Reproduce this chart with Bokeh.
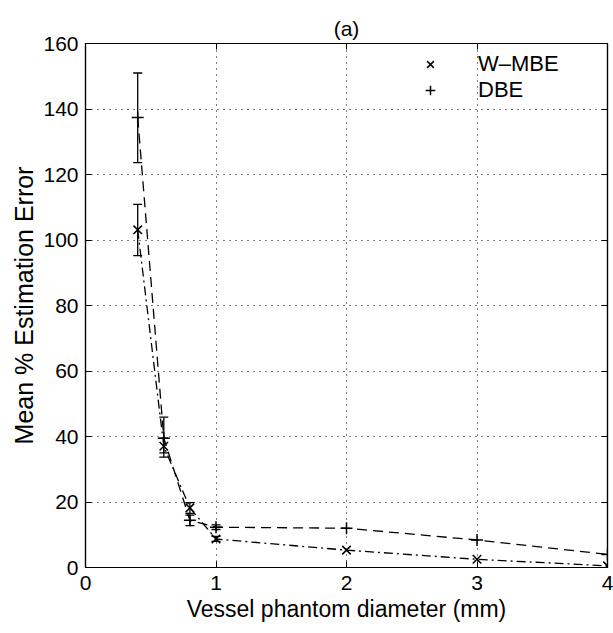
from bokeh.plotting import figure
from bokeh.models import (ColumnDataSource, Whisker, TeeHead, Legend, LegendItem,
                          LinearAxis, FixedTicker, Range1d, Title)
from bokeh.embed import file_html
from bokeh.resources import INLINE

# ---- data ----
diam = [0.4, 0.6, 0.8, 1, 2, 3, 4]
wmbe = [103.1, 37.0, 18.2, 8.7, 5.3, 2.5, 0.5]
dbe = [137.4, 39.5, 14.4, 12.3, 12.0, 8.4, 4.0]

err_x = [0.4, 0.6, 0.8, 1.0]
wmbe_lo = [95.2, 35.0, 16.5, 8.0]
wmbe_hi = [110.9, 39.5, 19.8, 9.5]
dbe_lo = [123.6, 33.7, 12.8, 11.6]
dbe_hi = [151.0, 45.9, 16.0, 13.0]

x_ticks = [0, 1, 2, 3, 4]
y_ticks = [0, 20, 40, 60, 80, 100, 120, 140, 160]

FONT = "Liberation Sans"

p = figure(width=613, height=633, output_backend="svg", toolbar_location=None,
           x_range=Range1d(0, 4), y_range=Range1d(0, 160),
           min_border_left=85, min_border_right=6, min_border_top=43, min_border_bottom=66)
p.background_fill_color = "white"
p.border_fill_color = "white"
p.outline_line_color = "black"
p.outline_line_width = 1.2

# grid
for g in (p.xgrid, p.ygrid):
    g.grid_line_color = "black"
    g.grid_line_dash = "1 5"
    g.grid_line_width = 1
p.xgrid.ticker = FixedTicker(ticks=x_ticks)
p.ygrid.ticker = FixedTicker(ticks=y_ticks)

def style_axis(ax, ticks, labels=True):
    ax.ticker = FixedTicker(ticks=ticks)
    ax.major_tick_in = 6
    ax.major_tick_out = 0
    ax.minor_tick_in = 0
    ax.minor_tick_out = 0
    ax.axis_line_color = "black"
    ax.axis_line_width = 1.2
    ax.major_tick_line_color = "black"
    ax.major_label_text_font = FONT
    ax.major_label_text_font_size = "21px"
    ax.major_label_text_color = "black" if labels else None
    ax.axis_label_text_font = FONT
    ax.axis_label_text_font_style = "normal"
    ax.axis_label_text_font_size = "23px"
    ax.axis_label_text_color = "black"

style_axis(p.xaxis[0], x_ticks)
style_axis(p.yaxis[0], y_ticks)
p.xaxis[0].axis_label = "Vessel phantom diameter (mm)"
p.yaxis[0].axis_label = "Mean % Estimation Error"
p.yaxis[0].axis_label_text_font_size = "25px"
p.xaxis[0].major_label_standoff = 8
p.xaxis[0].axis_label_standoff = 3
p.yaxis[0].major_label_standoff = 7
p.yaxis[0].axis_label_standoff = 2

top_ax = LinearAxis()
style_axis(top_ax, x_ticks, labels=False)
top_ax.major_label_text_font_size = "0px"
p.add_layout(top_ax, "above")
right_ax = LinearAxis()
style_axis(right_ax, y_ticks, labels=False)
right_ax.major_label_text_font_size = "0px"
p.add_layout(right_ax, "right")

p.title = Title(text="(a)", align="center", vertical_align="top", text_font=FONT,
                text_font_size="21px", text_font_style="normal", text_color="black",
                standoff=4)

src = ColumnDataSource(dict(x=diam, w=wmbe, d=dbe))
esrc = ColumnDataSource(dict(x=err_x, wlo=wmbe_lo, whi=wmbe_hi, dlo=dbe_lo, dhi=dbe_hi))

# lines
p.line("x", "w", source=src, line_color="black", line_width=1.3, line_dash="9 4 2 4")
p.line("x", "d", source=src, line_color="black", line_width=1.3, line_dash="10 6")

# error bars
for lo, hi in (("wlo", "whi"), ("dlo", "dhi")):
    wk = Whisker(base="x", lower=lo, upper=hi, source=esrc, line_color="black", line_width=1.3,
                 upper_head=TeeHead(size=9, line_color="black", line_width=1.3),
                 lower_head=TeeHead(size=9, line_color="black", line_width=1.3))
    p.add_layout(wk)

# markers
rw = p.scatter("x", "w", source=src, marker="x", size=12, line_color="black", line_width=1.5)
rd = p.scatter("x", "d", source=src, marker="cross", size=12, line_color="black", line_width=1.5)

legend = Legend(items=[LegendItem(label="W\u2013MBE", renderers=[rw]),
                       LegendItem(label="DBE", renderers=[rd])],
                location=(331, 464), padding=0, margin=0, spacing=0,
                glyph_width=28, glyph_height=24, label_height=24, label_standoff=34,
                label_text_font=FONT, label_text_font_size="22px", label_text_color="black",
                border_line_color=None, background_fill_alpha=0)
p.add_layout(legend)

open("out.html", "w").write(file_html(p, INLINE))
